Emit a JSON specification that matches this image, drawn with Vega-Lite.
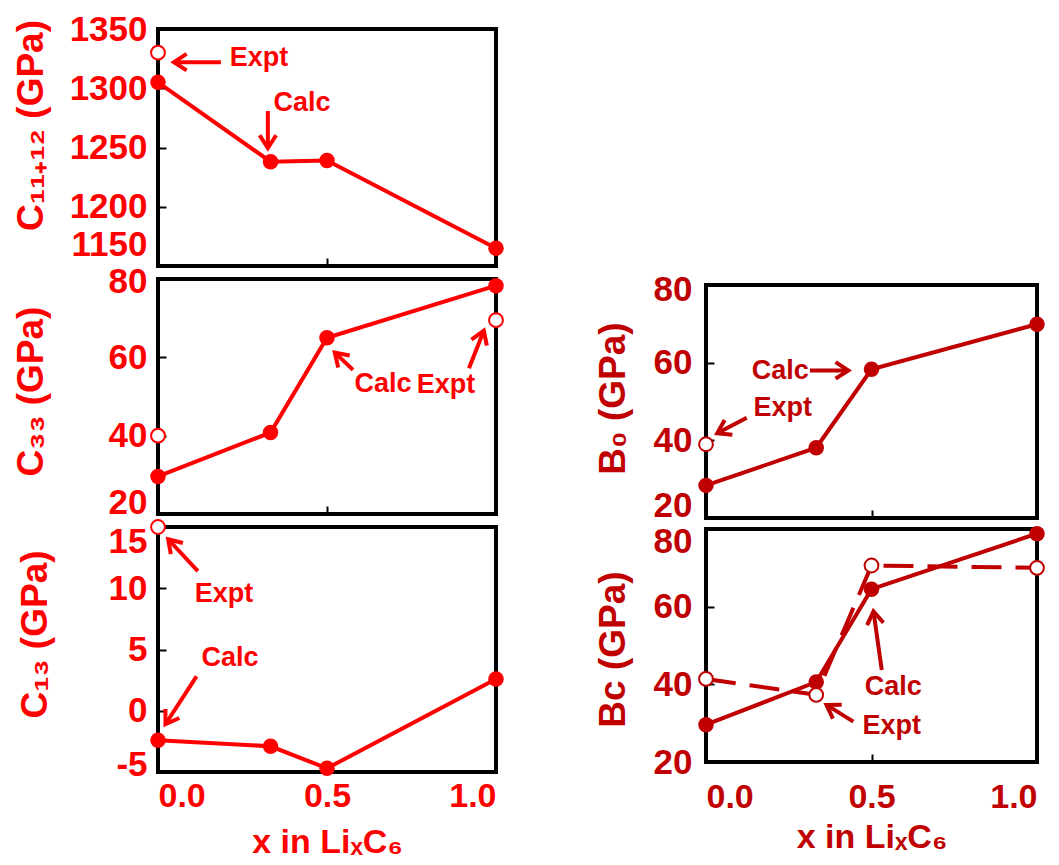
{
  "$schema": "https://vega.github.io/schema/vega-lite/v6.json",
  "background": "white",
  "padding": {"left": 10, "top": 10, "right": 5, "bottom": 5},
  "config": {
    "view": {"stroke": "black", "strokeWidth": 4},
    "axis": {"domain": false, "grid": false, "tickColor": "black", "tickWidth": 2, "tickSize": -8,
      "labelFont": "Liberation Sans", "labelFontWeight": "bold", "labelFontSize": 35,
      "titleFont": "Liberation Sans", "titleFontWeight": "bold", "titleFontSize": 37},
    "text": {"font": "Liberation Sans", "fontWeight": "bold", "fontSize": 27}
  },
  "datasets": {
    "main": [
      {"panel": "C11", "kind": "Calc", "x": 0, "y": 1305},
      {"panel": "C11", "kind": "Calc", "x": 0.333, "y": 1238},
      {"panel": "C11", "kind": "Calc", "x": 0.5, "y": 1239},
      {"panel": "C11", "kind": "Calc", "x": 1, "y": 1165},
      {"panel": "C11", "kind": "Expt", "x": 0, "y": 1330},
      {"panel": "C33", "kind": "Calc", "x": 0, "y": 29.6},
      {"panel": "C33", "kind": "Calc", "x": 0.333, "y": 40.8},
      {"panel": "C33", "kind": "Calc", "x": 0.5, "y": 65},
      {"panel": "C33", "kind": "Calc", "x": 1, "y": 78.3},
      {"panel": "C33", "kind": "Expt", "x": 0, "y": 40},
      {"panel": "C33", "kind": "Expt", "x": 1, "y": 69.5},
      {"panel": "C13", "kind": "Calc", "x": 0, "y": -2.4},
      {"panel": "C13", "kind": "Calc", "x": 0.333, "y": -2.9},
      {"panel": "C13", "kind": "Calc", "x": 0.5, "y": -4.7},
      {"panel": "C13", "kind": "Calc", "x": 1, "y": 2.6},
      {"panel": "C13", "kind": "Expt", "x": 0, "y": 15},
      {"panel": "B0", "kind": "Calc", "x": 0, "y": 28.4},
      {"panel": "B0", "kind": "Calc", "x": 0.333, "y": 38.1},
      {"panel": "B0", "kind": "Calc", "x": 0.5, "y": 58.3},
      {"panel": "B0", "kind": "Calc", "x": 1, "y": 69.9},
      {"panel": "B0", "kind": "Expt", "x": 0, "y": 39},
      {"panel": "Bc", "kind": "Calc", "x": 0, "y": 29.6},
      {"panel": "Bc", "kind": "Calc", "x": 0.333, "y": 40.6},
      {"panel": "Bc", "kind": "Calc", "x": 0.5, "y": 64.5},
      {"panel": "Bc", "kind": "Calc", "x": 1, "y": 78.8},
      {"panel": "Bc", "kind": "Expt", "x": 0, "y": 41.4},
      {"panel": "Bc", "kind": "Expt", "x": 0.333, "y": 37.3},
      {"panel": "Bc", "kind": "Expt", "x": 0.5, "y": 70.6},
      {"panel": "Bc", "kind": "Expt", "x": 1, "y": 70}
    ],
    "notes": [
      {"panel": "C11", "label": "Expt", "x": 0.299, "y": 1325.5},
      {"panel": "C11", "label": "Calc", "x": 0.426, "y": 1287.6},
      {"panel": "C33", "label": "Calc", "x": 0.666, "y": 53.2},
      {"panel": "C33", "label": "Expt", "x": 0.852, "y": 52.9},
      {"panel": "C13", "label": "Expt", "x": 0.195, "y": 9.5},
      {"panel": "C13", "label": "Calc", "x": 0.213, "y": 4.3},
      {"panel": "B0", "label": "Calc", "x": 0.224, "y": 57.8},
      {"panel": "B0", "label": "Expt", "x": 0.232, "y": 48.4},
      {"panel": "Bc", "label": "Calc", "x": 0.566, "y": 39.4},
      {"panel": "Bc", "label": "Expt", "x": 0.561, "y": 29.3}
    ],
    "arrows": [
      {"panel": "C11", "x": 0.047, "y": 1322, "x2": 0.186, "y2": 1322, "angle": 270},
      {"panel": "C11", "x": 0.325, "y": 1249.6, "x2": 0.325, "y2": 1280.8, "angle": 180},
      {"panel": "C33", "x": 0.523, "y": 61.2, "x2": 0.577, "y2": 56.8, "angle": 314},
      {"panel": "C33", "x": 0.964, "y": 66.8, "x2": 0.92, "y2": 57.2, "angle": 21.5},
      {"panel": "C13", "x": 0.03, "y": 14.0, "x2": 0.118, "y2": 11.4, "angle": 317},
      {"panel": "C13", "x": 0.022, "y": -1.1, "x2": 0.114, "y2": 2.8, "angle": 213},
      {"panel": "B0", "x": 0.43, "y": 58.0, "x2": 0.314, "y2": 58.0, "angle": 90},
      {"panel": "B0", "x": 0.034, "y": 41.8, "x2": 0.123, "y2": 45.8, "angle": 242},
      {"panel": "Bc", "x": 0.506, "y": 58.8, "x2": 0.531, "y2": 43.7, "angle": 352},
      {"panel": "Bc", "x": 0.364, "y": 34.7, "x2": 0.445, "y2": 30.4, "angle": 302}
    ]
  },
  "spacing": 82,
  "hconcat": [
    {
      "spacing": 13,
      "bounds": "flush",
      "vconcat": [
        {
          "width": 338, "height": 237,
          "encoding": {
            "x": {"field": "x", "type": "quantitative", "scale": {"domain": [0, 1], "nice": false},
              "axis": {"values": [0.5], "labels": false, "title": null}},
            "y": {"field": "y", "type": "quantitative", "scale": {"domain": [1150, 1350], "nice": false, "zero": false},
              "axis": {"values": [1150, 1200, 1250, 1300, 1350], "labelExpr": "'' + datum.value", "labelColor": "#FF0000", "titleColor": "#FF0000",
                "title": "C₁₁₊₁₂ (GPa)", "titleX": -127, "titleY": 96, "titleBaseline": "middle", "labelPadding": 19,
                "labelOffset": {"condition": {"test": "datum.value == 1150", "value": -22}, "value": 0}}}
          },
          "layer": [
            {"data": {"name": "main"}, "transform": [{"filter": "datum.panel == 'C11' && datum.kind == 'Calc'"}],
              "mark": {"type": "line", "color": "#FF0000", "strokeWidth": 4}},
            {"data": {"name": "main"}, "transform": [{"filter": "datum.panel == 'C11' && datum.kind == 'Calc'"}],
              "mark": {"type": "point", "filled": true, "color": "#FF0000", "size": 240, "opacity": 1}},
            {"data": {"name": "main"}, "transform": [{"filter": "datum.panel == 'C11' && datum.kind == 'Expt'"}],
              "mark": {"type": "point", "fill": "white", "stroke": "#FF0000", "strokeWidth": 2, "size": 190, "opacity": 1, "fillOpacity": 1}},
            {"data": {"name": "notes"}, "transform": [{"filter": "datum.panel == 'C11'"}],
              "mark": {"type": "text", "color": "#FF0000"}, "encoding": {"text": {"field": "label", "type": "nominal"}}},
            {"data": {"name": "arrows"}, "transform": [{"filter": "datum.panel == 'C11'"}],
              "mark": {"type": "rule", "color": "#FF0000", "strokeWidth": 4},
              "encoding": {"x2": {"field": "x2"}, "y2": {"field": "y2"}}},
            {"data": {"name": "arrows"}, "transform": [{"filter": "datum.panel == 'C11'"}],
              "mark": {"type": "point", "shape": "M-0.55,0.85L0,0L0.55,0.85", "filled": false, "stroke": "#FF0000", "strokeWidth": 4, "size": 900, "opacity": 1},
              "encoding": {"angle": {"field": "angle", "type": "quantitative", "scale": null}}}
          ]
        },
        {
          "width": 338, "height": 235,
          "encoding": {
            "x": {"field": "x", "type": "quantitative", "scale": {"domain": [0, 1], "nice": false},
              "axis": {"values": [0.5], "labels": false, "title": null}},
            "y": {"field": "y", "type": "quantitative", "scale": {"domain": [20, 80], "nice": false, "zero": false},
              "axis": {"values": [20, 40, 60, 80], "labelExpr": "'' + datum.value", "labelColor": "#FF0000", "titleColor": "#FF0000",
                "title": "C₃₃ (GPa)", "titleX": -127, "titleY": 112, "titleBaseline": "middle", "labelPadding": 19,
                "labelOffset": {"condition": [{"test": "datum.value == 20", "value": -12}, {"test": "datum.value == 80", "value": 2}], "value": 0}}}
          },
          "layer": [
            {"data": {"name": "main"}, "transform": [{"filter": "datum.panel == 'C33' && datum.kind == 'Calc'"}],
              "mark": {"type": "line", "color": "#FF0000", "strokeWidth": 4}},
            {"data": {"name": "main"}, "transform": [{"filter": "datum.panel == 'C33' && datum.kind == 'Calc'"}],
              "mark": {"type": "point", "filled": true, "color": "#FF0000", "size": 240, "opacity": 1}},
            {"data": {"name": "main"}, "transform": [{"filter": "datum.panel == 'C33' && datum.kind == 'Expt'"}],
              "mark": {"type": "point", "fill": "white", "stroke": "#FF0000", "strokeWidth": 2, "size": 190, "opacity": 1, "fillOpacity": 1}},
            {"data": {"name": "notes"}, "transform": [{"filter": "datum.panel == 'C33'"}],
              "mark": {"type": "text", "color": "#FF0000"}, "encoding": {"text": {"field": "label", "type": "nominal"}}},
            {"data": {"name": "arrows"}, "transform": [{"filter": "datum.panel == 'C33'"}],
              "mark": {"type": "rule", "color": "#FF0000", "strokeWidth": 4},
              "encoding": {"x2": {"field": "x2"}, "y2": {"field": "y2"}}},
            {"data": {"name": "arrows"}, "transform": [{"filter": "datum.panel == 'C33'"}],
              "mark": {"type": "point", "shape": "M-0.55,0.85L0,0L0.55,0.85", "filled": false, "stroke": "#FF0000", "strokeWidth": 4, "size": 900, "opacity": 1},
              "encoding": {"angle": {"field": "angle", "type": "quantitative", "scale": null}}}
          ]
        },
        {
          "width": 338, "height": 245,
          "encoding": {
            "x": {"field": "x", "type": "quantitative", "scale": {"domain": [0, 1], "nice": false},
              "axis": {"values": [0, 0.5, 1], "format": ".1f", "title": "x in LiₓC₆", "labelColor": "#FF0000", "titleColor": "#FF0000",
                "labelFontSize": 34, "titleFontSize": 34, "labelPadding": 15, "titlePadding": 12}},
            "y": {"field": "y", "type": "quantitative", "scale": {"domain": [-5, 15], "nice": false, "zero": false},
              "axis": {"values": [-5, 0, 5, 10, 15], "labelExpr": "'' + datum.value", "labelColor": "#FF0000", "titleColor": "#FF0000",
                "title": "C₁₃ (GPa)", "titleX": -123, "titleY": 107, "titleBaseline": "middle", "labelPadding": 19,
                "labelOffset": {"condition": [{"test": "datum.value == 15", "value": 14}, {"test": "datum.value == -5", "value": -8}], "value": 0}}}
          },
          "layer": [
            {"data": {"name": "main"}, "transform": [{"filter": "datum.panel == 'C13' && datum.kind == 'Calc'"}],
              "mark": {"type": "line", "color": "#FF0000", "strokeWidth": 4}},
            {"data": {"name": "main"}, "transform": [{"filter": "datum.panel == 'C13' && datum.kind == 'Calc'"}],
              "mark": {"type": "point", "filled": true, "color": "#FF0000", "size": 240, "opacity": 1}},
            {"data": {"name": "main"}, "transform": [{"filter": "datum.panel == 'C13' && datum.kind == 'Expt'"}],
              "mark": {"type": "point", "fill": "white", "stroke": "#FF0000", "strokeWidth": 2, "size": 190, "opacity": 1, "fillOpacity": 1}},
            {"data": {"name": "notes"}, "transform": [{"filter": "datum.panel == 'C13'"}],
              "mark": {"type": "text", "color": "#FF0000"}, "encoding": {"text": {"field": "label", "type": "nominal"}}},
            {"data": {"name": "arrows"}, "transform": [{"filter": "datum.panel == 'C13'"}],
              "mark": {"type": "rule", "color": "#FF0000", "strokeWidth": 4},
              "encoding": {"x2": {"field": "x2"}, "y2": {"field": "y2"}}},
            {"data": {"name": "arrows"}, "transform": [{"filter": "datum.panel == 'C13'"}],
              "mark": {"type": "point", "shape": "M-0.55,0.85L0,0L0.55,0.85", "filled": false, "stroke": "#FF0000", "strokeWidth": 4, "size": 900, "opacity": 1},
              "encoding": {"angle": {"field": "angle", "type": "quantitative", "scale": null}}}
          ]
        }
      ]
    },
    {
      "spacing": 11,
      "bounds": "flush",
      "vconcat": [
        {
          "width": 331, "height": 245,
          "view": {"stroke": null},
          "data": {"values": []},
          "mark": "point"
        },
        {
          "width": 331, "height": 233,
          "encoding": {
            "x": {"field": "x", "type": "quantitative", "scale": {"domain": [0, 1], "nice": false},
              "axis": {"values": [0.5], "labels": false, "title": null}},
            "y": {"field": "y", "type": "quantitative", "scale": {"domain": [20, 80], "nice": false, "zero": false},
              "axis": {"values": [20, 40, 60, 80], "labelExpr": "'' + datum.value", "labelColor": "#C00000", "titleColor": "#C00000",
                "title": "B₀ (GPa)", "titleX": -93, "titleY": 113, "titleBaseline": "middle", "labelPadding": 22,
                "labelOffset": {"condition": [{"test": "datum.value == 80", "value": 4}, {"test": "datum.value == 20", "value": -13}], "value": 0}}}
          },
          "layer": [
            {"data": {"name": "main"}, "transform": [{"filter": "datum.panel == 'B0' && datum.kind == 'Calc'"}],
              "mark": {"type": "line", "color": "#C00000", "strokeWidth": 4}},
            {"data": {"name": "main"}, "transform": [{"filter": "datum.panel == 'B0' && datum.kind == 'Calc'"}],
              "mark": {"type": "point", "filled": true, "color": "#C00000", "size": 240, "opacity": 1}},
            {"data": {"name": "main"}, "transform": [{"filter": "datum.panel == 'B0' && datum.kind == 'Expt'"}],
              "mark": {"type": "point", "fill": "white", "stroke": "#C00000", "strokeWidth": 2, "size": 190, "opacity": 1, "fillOpacity": 1}},
            {"data": {"name": "notes"}, "transform": [{"filter": "datum.panel == 'B0'"}],
              "mark": {"type": "text", "color": "#C00000"}, "encoding": {"text": {"field": "label", "type": "nominal"}}},
            {"data": {"name": "arrows"}, "transform": [{"filter": "datum.panel == 'B0'"}],
              "mark": {"type": "rule", "color": "#C00000", "strokeWidth": 4},
              "encoding": {"x2": {"field": "x2"}, "y2": {"field": "y2"}}},
            {"data": {"name": "arrows"}, "transform": [{"filter": "datum.panel == 'B0'"}],
              "mark": {"type": "point", "shape": "M-0.55,0.85L0,0L0.55,0.85", "filled": false, "stroke": "#C00000", "strokeWidth": 4, "size": 900, "opacity": 1},
              "encoding": {"angle": {"field": "angle", "type": "quantitative", "scale": null}}}
          ]
        },
        {
          "width": 331, "height": 233,
          "encoding": {
            "x": {"field": "x", "type": "quantitative", "scale": {"domain": [0, 1], "nice": false},
              "axis": {"values": [0, 0.5, 1], "format": ".1f", "title": "x in LiₓC₆", "labelColor": "#C00000", "titleColor": "#C00000",
                "labelFontSize": 34, "titleFontSize": 34, "labelPadding": 26, "titlePadding": 6}},
            "y": {"field": "y", "type": "quantitative", "scale": {"domain": [20, 80], "nice": false, "zero": false},
              "axis": {"values": [20, 40, 60, 80], "labelExpr": "'' + datum.value", "labelColor": "#C00000", "titleColor": "#C00000",
                "title": "Bc (GPa)", "titleX": -93, "titleY": 120, "titleBaseline": "middle", "labelPadding": 22,
                "labelOffset": {"condition": {"test": "datum.value == 80", "value": 12}, "value": 0}}}
          },
          "layer": [
            {"data": {"name": "main"}, "transform": [{"filter": "datum.panel == 'Bc' && datum.kind == 'Expt'"}],
              "mark": {"type": "line", "color": "#C00000", "strokeWidth": 4, "strokeDash": [30, 14]}},
            {"data": {"name": "main"}, "transform": [{"filter": "datum.panel == 'Bc' && datum.kind == 'Calc'"}],
              "mark": {"type": "line", "color": "#C00000", "strokeWidth": 4}},
            {"data": {"name": "main"}, "transform": [{"filter": "datum.panel == 'Bc' && datum.kind == 'Calc'"}],
              "mark": {"type": "point", "filled": true, "color": "#C00000", "size": 240, "opacity": 1}},
            {"data": {"name": "main"}, "transform": [{"filter": "datum.panel == 'Bc' && datum.kind == 'Expt'"}],
              "mark": {"type": "point", "fill": "white", "stroke": "#C00000", "strokeWidth": 2, "size": 190, "opacity": 1, "fillOpacity": 1}},
            {"data": {"name": "notes"}, "transform": [{"filter": "datum.panel == 'Bc'"}],
              "mark": {"type": "text", "color": "#C00000"}, "encoding": {"text": {"field": "label", "type": "nominal"}}},
            {"data": {"name": "arrows"}, "transform": [{"filter": "datum.panel == 'Bc'"}],
              "mark": {"type": "rule", "color": "#C00000", "strokeWidth": 4},
              "encoding": {"x2": {"field": "x2"}, "y2": {"field": "y2"}}},
            {"data": {"name": "arrows"}, "transform": [{"filter": "datum.panel == 'Bc'"}],
              "mark": {"type": "point", "shape": "M-0.55,0.85L0,0L0.55,0.85", "filled": false, "stroke": "#C00000", "strokeWidth": 4, "size": 900, "opacity": 1},
              "encoding": {"angle": {"field": "angle", "type": "quantitative", "scale": null}}}
          ]
        }
      ]
    }
  ]
}
